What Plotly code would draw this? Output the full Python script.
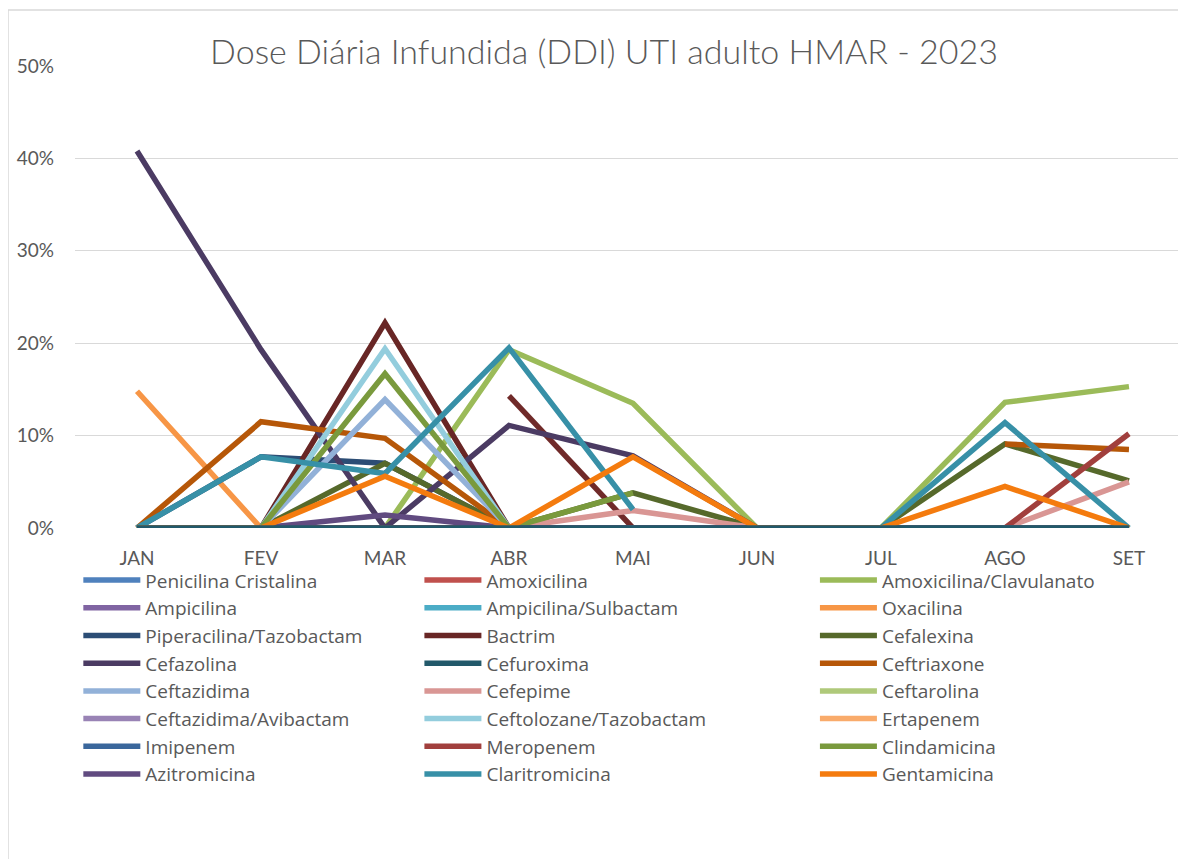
import plotly.graph_objects as go

months = ["JAN", "FEV", "MAR", "ABR", "MAI", "JUN", "JUL", "AGO", "SET"]
title_text = "Dose Diária Infundida (DDI) UTI adulto HMAR - 2023"

# values in % (None = empty cell / gap)
penicilina_cristalina = [0, 0, 0, 0, 0, 0, 0, 0, 0]
amoxicilina = [0, 0, 0, 0, 0, 0, 0, 0, 0]
amoxicilina_clavulanato = [0, 0, 0, 19.3, 13.5, 0, 0, 13.6, 15.3]
ampicilina = [0, 0, 0, 0, 0, 0, 0, 0, 0]
ampicilina_sulbactam = [0, 0, 0, 0, 0, 0, 0, 0, 0]
oxacilina = [14.8, 0, 0, 0, 0, 0, 0, 0, 0]
piperacilina_tazobactam = [0, 7.7, 7.0, 0, 0, 0, 0, 0, 0]
bactrim = [0, 0, 22.2, 0, 0, 0, 0, 0, 0]
serie_sem_legenda = [None, None, None, 14.3, 0, None, None, None, None]
cefalexina = [0, 0, 7.0, 0, 3.8, 0, 0, 9.1, 5.1]
cefazolina = [40.8, 19.3, 0, 11.1, 7.8, 0, 0, 0, 0]
cefuroxima = [0, 0, 0, 0, 0, 0, 0, 0, 0]
ceftriaxone = [0, 11.5, 9.7, 0, 0, 0, None, 9.1, 8.5]
ceftazidima = [0, 0, 13.9, 0, 0, 0, 0, 0, 0]
cefepime = [0, 0, 0, 0, 1.9, 0, 0, 0, 5.0]
ceftarolina = [0, 0, 0, 0, 0, 0, 0, 0, 0]
ceftazidima_avibactam = [0, 0, 0, 0, 0, 0, 0, 0, 0]
ceftolozane_tazobactam = [0, 0, 19.4, 0, 0, 0, 0, 0, 0]
ertapenem = [0, 0, 0, 0, 0, 0, 0, 0, 0]
imipenem = [0, 0, 0, 0, 0, 0, 0, 0, 0]
meropenem = [0, 0, 0, 0, 0, 0, 0, 0, 10.2]
clindamicina = [0, 0, 16.7, 0, 3.8, None, 0, 0, 0]
azitromicina = [0, 0, 1.4, 0, 0, 0, 0, 0, 0]
claritromicina = [0, 7.7, 5.9, 19.5, 2.0, None, 0, 11.4, 0]
gentamicina = [0, 0, 5.6, 0, 7.7, 0, 0, 4.5, 0]

y_tick_values = [0, 10, 20, 30, 40, 50]
y_tick_labels = ["0%", "10%", "20%", "30%", "40%", "50%"]

# (name, values, color, legend column)
series = [
    ("Penicilina Cristalina", penicilina_cristalina, "#4F81BD", 1),
    ("Amoxicilina", amoxicilina, "#C0504D", 2),
    ("Amoxicilina/Clavulanato", amoxicilina_clavulanato, "#9BBB59", 3),
    ("Ampicilina", ampicilina, "#8064A2", 1),
    ("Ampicilina/Sulbactam", ampicilina_sulbactam, "#4BACC6", 2),
    ("Oxacilina", oxacilina, "#F79646", 3),
    ("Piperacilina/Tazobactam", piperacilina_tazobactam, "#2C4D75", 1),
    ("Bactrim", bactrim, "#682625", 2),
    ("Cefalexina", cefalexina, "#56692B", 3),
    ("Cefazolina", cefazolina, "#4B3B63", 1),
    ("Cefuroxima", cefuroxima, "#22596A", 2),
    ("Ceftriaxone", ceftriaxone, "#B65708", 3),
    ("Ceftazidima", ceftazidima, "#92B1D8", 1),
    ("Cefepime", cefepime, "#D99694", 2),
    ("Ceftarolina", ceftarolina, "#AFC97A", 3),
    ("Ceftazidima/Avibactam", ceftazidima_avibactam, "#9983B5", 1),
    ("Ceftolozane/Tazobactam", ceftolozane_tazobactam, "#93CDDD", 2),
    ("Ertapenem", ertapenem, "#F9AB6B", 3),
    ("Imipenem", imipenem, "#3A679C", 1),
    ("Meropenem", meropenem, "#A13F3D", 2),
    ("Clindamicina", clindamicina, "#7A9A3D", 3),
    ("Azitromicina", azitromicina, "#614B80", 1),
    ("Claritromicina", claritromicina, "#3790A7", 2),
    ("Gentamicina", gentamicina, "#F47B0E", 3),
]

LW = 5.5
fig = go.Figure()
legend_ids = {1: "legend", 2: "legend2", 3: "legend3"}

def add(name, vals, color, col, rank, show=True):
    fig.add_trace(go.Scatter(
        x=months, y=vals, name=name, mode="lines",
        line=dict(color=color, width=LW),
        connectgaps=False, cliponaxis=False,
        showlegend=show, legend=legend_ids[col], legendrank=rank,
        legendgroup=name,
    ))

# draw in series order; baseline series (Cefuroxima) drawn last (on top)
for i, (name, vals, color, col) in enumerate(series):
    if name == "Cefuroxima":
        continue
    add(name, vals, color, col, i + 1)
    if name == "Bactrim":
        add("Bactrim (2)", serie_sem_legenda, "#702A29", col, 999, show=False)
for i, (name, vals, color, col) in enumerate(series):
    if name == "Cefuroxima":
        add(name, vals, color, col, i + 1)

GRAY = "#595959"
FONT = "Lato, 'Open Sans', sans-serif"
LFONT = "'Open Sans', Lato, sans-serif"

# page body has an 8px margin: figure is 8px smaller, coordinates offset by 8
W, H = 1178, 851
leg_common = dict(
    orientation="v", yanchor="top", xanchor="left", y=-0.072,
    font=dict(family=LFONT, size=19, color=GRAY),
    bgcolor="rgba(0,0,0,0)", itemwidth=57, tracegroupgap=0,
    traceorder="normal",
)

fig.update_layout(
    width=W, height=H,
    margin=dict(l=67, r=0, t=58, b=331, autoexpand=False),
    paper_bgcolor="white", plot_bgcolor="white",
    title=dict(text=title_text, x=596 / W, xanchor="center", xref="container",
               y=1 - 44 / H, yanchor="middle", yref="container",
               font=dict(family=FONT, size=34, color=GRAY, weight=300)),
    xaxis=dict(type="category", range=[-0.5, 8.46], showgrid=False,
               showline=False, zeroline=False, ticks="",
               tickfont=dict(family=FONT, size=19, color=GRAY),
               ticklabelstandoff=17),
    yaxis=dict(range=[0, 50], tickmode="array", tickvals=y_tick_values,
               ticktext=y_tick_labels,
               showgrid=True, gridcolor="#D9D9D9", gridwidth=1.3,
               zeroline=False, showline=False, ticks="",
               tickfont=dict(family=FONT, size=19, color=GRAY),
               ticklabelstandoff=20),
    legend=dict(leg_common, x=0.003),
    legend2=dict(leg_common, x=0.31),
    legend3=dict(leg_common, x=0.666),
    shapes=[dict(type="rect", xref="paper", yref="paper",
                 x0=(8 - 75) / 1111, x1=(1200 - 75) / 1111,
                 y0=(528 - 880) / 462, y1=(528 - 10) / 462,
                 line=dict(color="#D9D9D9", width=1.5), layer="below")],
    showlegend=True,
)

fig.write_html("out.html")
